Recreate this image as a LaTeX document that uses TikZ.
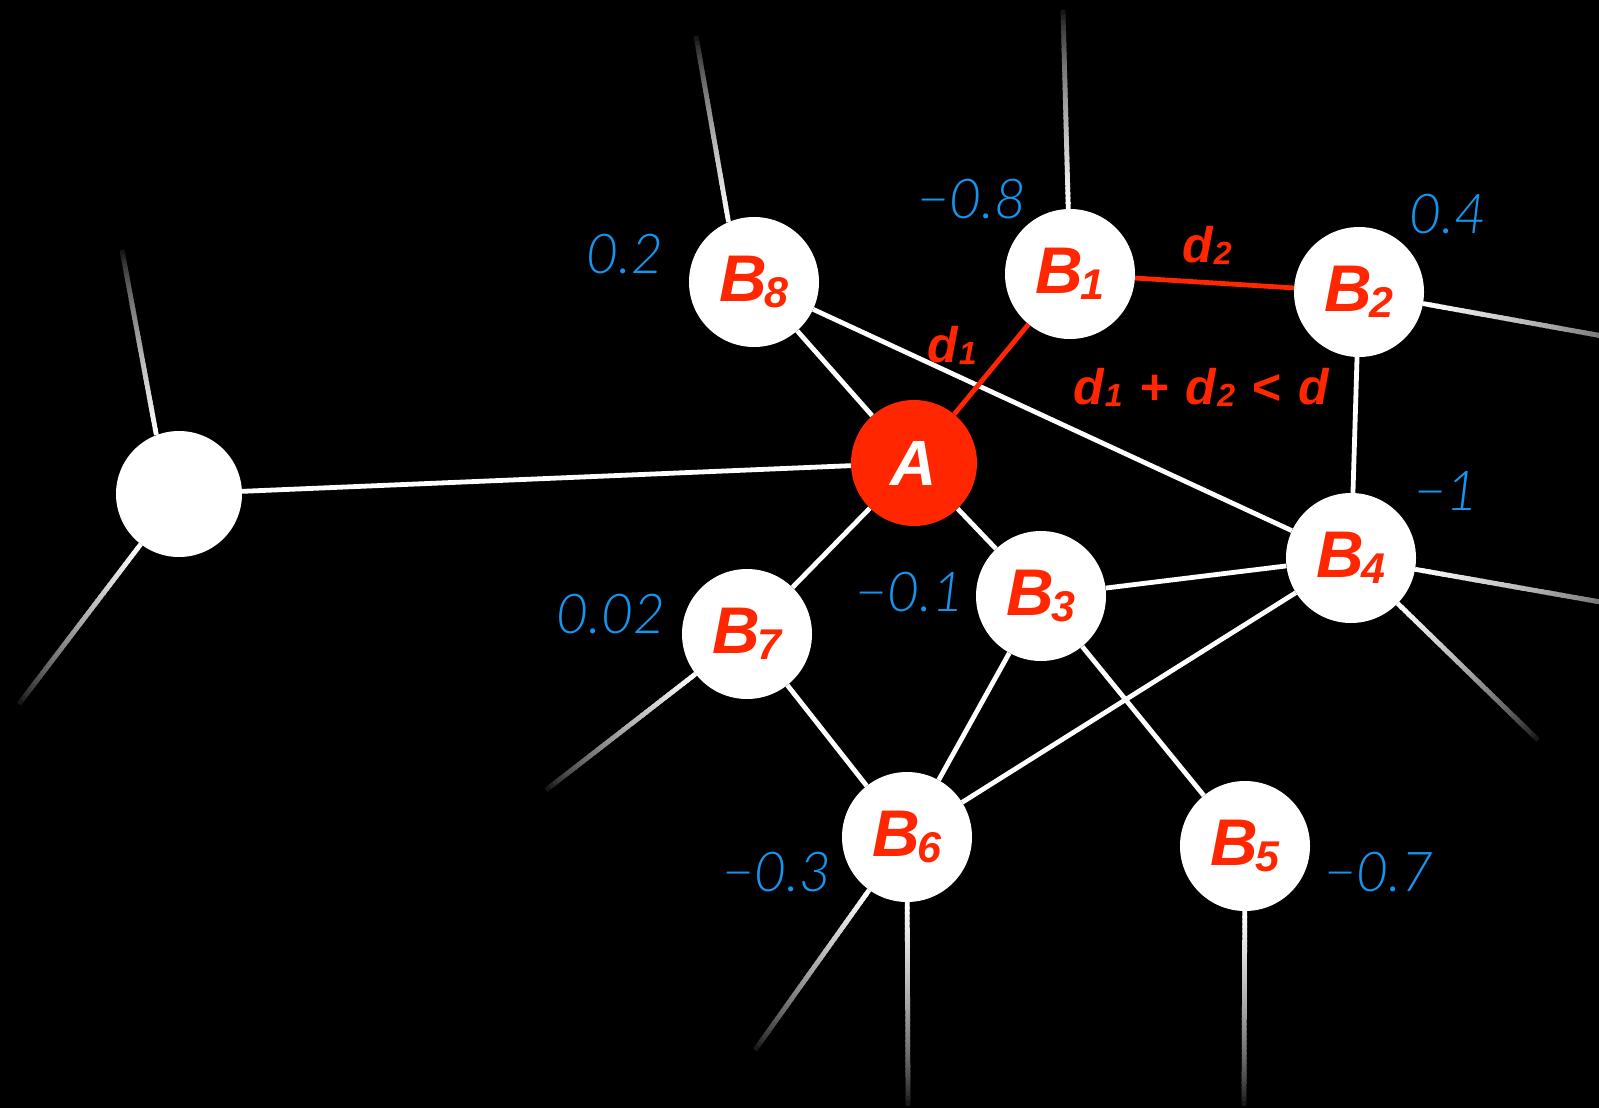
\documentclass[tikz,border=0pt]{standalone}
\usepackage{fontspec}
\setmainfont{Liberation Sans}
\newfontfamily\bluefont{Lato Light Italic}
\usetikzlibrary{calc}
\definecolor{redc}{RGB}{255,38,0}
\definecolor{bluec}{RGB}{20,150,240}
\newcommand{\Bsub}[1]{B\kern-2pt\raisebox{-6pt}{\fontsize{43}{43}\selectfont #1}}
\newcommand{\dsub}[1]{d\kern1pt\raisebox{-2pt}{\fontsize{32}{32}\selectfont #1}}
\newcommand{\fadeedge}[3]{%
  \foreach \k in {0,...,39}{%
    \pgfmathsetmacro\ta{\k/40}%
    \pgfmathsetmacro\tb{min(1,(\k+1.4)/40)}%
    \pgfmathsetmacro\sh{100*(1-\ta)^0.65}%
    \draw[fadeseg, color=white!\sh!black]
      ($($(#1)!#3!(#2)$)!\ta!(#2)$) -- ($($(#1)!#3!(#2)$)!\tb!(#2)$);
  }}
\tikzset{
  bnode/.style={circle, fill=white, minimum size=130pt, inner sep=0pt, text=redc,
    font=\fontsize{66}{66}\selectfont\bfseries\itshape},
  anode/.style={circle, fill=redc, minimum size=126pt, inner sep=0pt, text=white,
    font=\fontsize{64}{64}\selectfont\bfseries\itshape},
  pnode/.style={circle, fill=white, minimum size=126pt, inner sep=0pt},
  edge/.style={white, line width=4.8pt},
  redge/.style={redc, line width=4.8pt},
  fadeseg/.style={line width=4.8pt},
  val/.style={text=bluec, font=\bluefont\fontsize{55}{55}\selectfont, inner sep=0pt},
  dlab/.style={text=redc, font=\fontsize{50}{50}\selectfont\bfseries\itshape, inner sep=0pt}
}
\begin{document}
\begin{tikzpicture}[x=1pt,y=-1pt]
\fill[black] (0,0) rectangle (1599,1108);
\useasboundingbox (0,0) rectangle (1599,1108);

% nodes
\node[pnode] (P) at (179,494) {};
\node[anode] (A) at (914,463) {A};
\node[bnode] (B8) at (754,282) {\Bsub{8}};
\node[bnode] (B1) at (1070,274) {\Bsub{1}};
\node[bnode] (B2) at (1359,292) {\Bsub{2}};
\node[bnode] (B4) at (1351,558) {\Bsub{4}};
\node[bnode] (B3) at (1041,596) {\Bsub{3}};
\node[bnode] (B7) at (747,634) {\Bsub{7}};
\node[bnode] (B6) at (907,837) {\Bsub{6}};
\node[bnode] (B5) at (1245,846) {\Bsub{5}};

% free ends
\coordinate (f1) at (122,250);
\coordinate (f2) at (19,704);
\coordinate (f3) at (696,36);
\coordinate (f4) at (1063,10);
\coordinate (f5) at (1680,350);
\coordinate (f6) at (1680,616);
\coordinate (f7) at (1538,740);
\coordinate (f8) at (546,790);
\coordinate (f9) at (755,1050);
\coordinate (f10) at (908,1106);
\coordinate (f11) at (1244,1106);

% fading edges
\fadeedge{P.111}{f1}{0pt}
\fadeedge{P}{f2}{63pt}
\fadeedge{B8.113}{f3}{0pt}
\fadeedge{B1}{f4}{65pt}
\fadeedge{B2}{f5}{65pt}
\fadeedge{B4}{f6}{65pt}
\fadeedge{B4}{f7}{65pt}
\fadeedge{B7}{f8}{65pt}
\fadeedge{B6}{f9}{65pt}
\fadeedge{B6}{f10}{65pt}
\fadeedge{B5}{f11}{65pt}

% solid edges
\draw[edge] (P) -- (A);
\draw[edge] (B8) -- (A);
\draw[edge] (B8) -- (B4);
\draw[edge] (A) -- (B7);
\draw[edge] (A) -- (B3);
\draw[edge] (B3) -- (B4);
\draw[edge] (B2) -- (B4);
\draw[edge] (B7) -- (B6);
\draw[edge] (B3) -- (B6);
\draw[edge] (B6) -- (B4);
\draw[edge] (B3) -- (B5);
\draw[redge] (A) -- (B1);
\draw[redge] (B1) -- (B2);

% values
\node[val] (v8) at (625,254) {0.2};
\node[val] (v1) at (972,199) {−0.8};
\node[val] (v2) at (1448,214) {0.4};
\node[val] (v4) at (1446,491) {−1};
\node[val] (v3) at (910,592) {−0.1};
\node[val] (v7) at (611,614) {0.02};
\node[val] (v6) at (777,872) {−0.3};
\node[val] (v5) at (1379,872) {−0.7};

% red labels
\node[dlab] (d1) at (952,345) {\dsub{1}};
\node[dlab] (d2) at (1207,245) {\dsub{2}};
\node[dlab] (ineq) at (1201,387) {\dsub{1}\kern3pt{} + \kern3pt\dsub{2}\kern3pt{} < \kern3pt d};
\end{tikzpicture}
\end{document}
